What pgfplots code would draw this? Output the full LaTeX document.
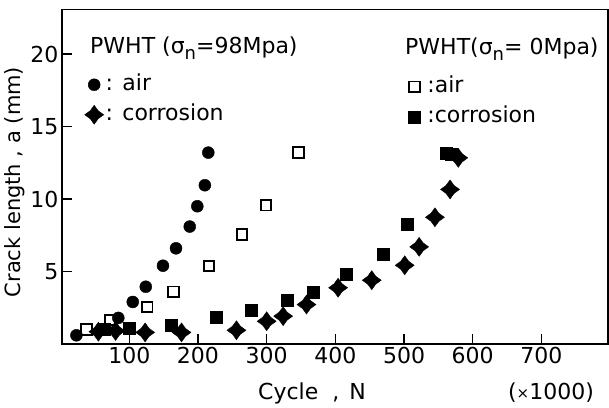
\documentclass[border=0pt]{standalone}
\usepackage{fontspec}
\setmainfont{DejaVu Sans}
\usepackage{pgfplots}
\pgfplotsset{compat=1.18}
\pgfdeclareplotmark{star4}{%
  \pgfpathmoveto{\pgfpoint{0pt}{\pgfplotmarksize}}%
  \pgfpathlineto{\pgfpoint{0.42\pgfplotmarksize}{0.42\pgfplotmarksize}}%
  \pgfpathlineto{\pgfpoint{\pgfplotmarksize}{0pt}}%
  \pgfpathlineto{\pgfpoint{0.42\pgfplotmarksize}{-0.42\pgfplotmarksize}}%
  \pgfpathlineto{\pgfpoint{0pt}{-\pgfplotmarksize}}%
  \pgfpathlineto{\pgfpoint{-0.42\pgfplotmarksize}{-0.42\pgfplotmarksize}}%
  \pgfpathlineto{\pgfpoint{-\pgfplotmarksize}{0pt}}%
  \pgfpathlineto{\pgfpoint{-0.42\pgfplotmarksize}{0.42\pgfplotmarksize}}%
  \pgfpathclose
  \pgfusepathqfillstroke}

\pgfplotstableread{
x y
23 0.6
84 1.8
105 2.9
124 3.95
149 5.4
168 6.6
188 8.1
199 9.5
210 10.95
215 13.2
}\airA
\pgfplotstableread{
x y
55 0.85
80 0.9
123 0.8
176 0.8
256 0.95
300 1.57
324 1.92
358 2.72
404 3.88
453 4.4
501 5.43
522 6.7
545 8.74
567 10.66
579 12.84
}\corA
\pgfplotstableread{
x y
38 1.0
72 1.65
126 2.55
164 3.6
216 5.37
264 7.55
299 9.57
346 13.2
}\airB
\pgfplotstableread{
x y
64 1.0
100 1.1
161 1.3
227 1.85
278 2.31
330 3.05
368 3.6
416 4.8
469 6.17
504 8.24
562 13.15
568 13.1
}\corB

\pgfplotsset{
  common/.style={
    at={(62pt,63pt)}, anchor=south west,
    scale only axis, width=546pt, height=334.5pt,
    xmin=2, xmax=797, ymin=0, ymax=23.07,
    clip=false,
    legend cell align=left,
    legend style={draw=none, fill=none, inner sep=0pt, row sep=7pt,
      nodes={inner sep=2pt, text height=15pt, text depth=4pt},
      font=\fontsize{22}{26}\selectfont},
  }
}

\begin{document}
\begin{tikzpicture}[font=\fontsize{22}{26}\selectfont]
\useasboundingbox (0,0) rectangle (609pt,407pt);
\begin{axis}[common,
  axis line style={line width=1.6pt},
  xtick={100,200,...,700}, ytick={5,10,15,20},
  tick align=inside, tick pos=left,
  major tick length=10pt, tick style={line width=1.4pt, black},
  ticklabel style={font=\fontsize{22}{26}\selectfont},
  /pgf/number format/assume math mode=true,
  legend style={at={(axis description cs:0.0412,0.81)}, anchor=north west},
]
\addplot[only marks, mark=*, mark size=6pt, black] table {\airA};
\addlegendentry{: air}
\addplot[only marks, mark=star4, mark size=9.5pt, black] table {\corA};
\addlegendentry{: corrosion}
\end{axis}
\begin{axis}[common, hide axis,
  legend style={at={(axis description cs:0.634,0.804)}, anchor=north west},
]
\addplot[only marks, mark=square, mark size=5.3pt, line width=1.9pt, black] table {\airB};
\addlegendentry{\hspace{5pt}:air}
\addplot[only marks, mark=square*, mark size=6pt, black] table {\corB};
\addlegendentry{\hspace{5pt}:corrosion}
\end{axis}
\node[anchor=west, inner sep=0pt] at (90pt,359pt) {PWHT (σ\raisebox{-6pt}{\fontsize{18}{18}\selectfont n}=98Mpa)};
\node[anchor=west, inner sep=0pt] at (405pt,358pt) {PWHT(σ\raisebox{-6pt}{\fontsize{18}{18}\selectfont n}= 0Mpa)};
\node[inner sep=0pt] at (312pt,14pt) {Cycle\hspace{14pt},\hspace{10pt}N};
\node[inner sep=0pt] at (551pt,14pt) {(\raisebox{1pt}{\fontsize{15}{15}\selectfont ×}1000)};
\node[inner sep=0pt, rotate=90, font=\fontsize{21}{25}\selectfont] at (15pt,225pt) {Crack length , a (mm)};
\end{tikzpicture}
\end{document}
